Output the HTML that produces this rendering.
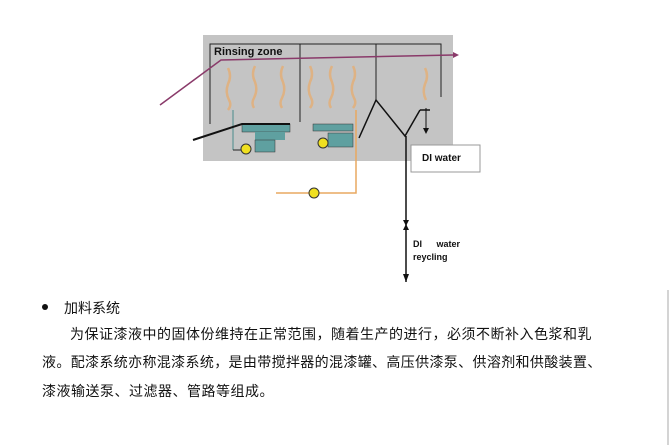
<!DOCTYPE html>
<html><head><meta charset="utf-8"><style>
body{margin:0;width:671px;height:445px;background:#fff;position:relative;overflow:hidden;font-family:"Liberation Sans","Noto Sans CJK SC",sans-serif}
.t{position:absolute;font-size:14px;color:#111;white-space:nowrap;font-family:"Liberation Sans","Noto Sans CJK SC",sans-serif}
.p{letter-spacing:0.5px}
</style></head><body>
<svg width="671" height="445" style="position:absolute;left:0;top:0">
<line x1="668" y1="290" x2="668" y2="445" stroke="#aaa" stroke-width="1"/>
<rect x="203" y="35" width="250" height="126" fill="#c4c4c4"/>
<g stroke="#222" stroke-width="1" fill="none">
<polyline points="210,124 210,44 441,44 441,97"/>
<line x1="300" y1="44" x2="300" y2="122"/>
<line x1="376" y1="44" x2="376" y2="100"/>
</g>
<g stroke="#e3b07a" stroke-width="2.5" fill="none" opacity="0.85">
<path d="M228,68 q4,8 0,16 q-3,8 1,16 q3,5 -1,10"/>
<path d="M255,66 q-4,8 0,16 q3,8 -1,16 q-3,5 0,10"/>
<path d="M283,66 q-4,8 0,16 q3,8 -1,16 q-3,5 0,10"/>
<path d="M310,66 q4,8 0,16 q-3,8 1,16 q3,5 -1,10"/>
<path d="M332,66 q-4,8 0,16 q3,8 -1,16 q-3,5 0,10"/>
<path d="M353,66 q4,8 0,16 q-3,8 1,16 q3,5 -1,10"/>
<path d="M425,68 q4,8 0,16 q-3,8 1,16"/>
</g>
<line x1="233" y1="110" x2="233" y2="150" stroke="#4a8c8c"/>
<rect x="242" y="124" width="48" height="8" fill="#5fa0a0" stroke="#333" stroke-width="0.5"/>
<rect x="255" y="132" width="30" height="8" fill="#5fa0a0"/>
<rect x="255" y="140" width="20" height="12" fill="#5fa0a0" stroke="#333" stroke-width="0.5"/>
<rect x="313" y="124" width="40" height="7" fill="#5fa0a0" stroke="#333" stroke-width="0.5"/>
<rect x="328" y="133" width="25" height="14" fill="#5fa0a0" stroke="#333" stroke-width="0.5"/>
<polyline points="233,150 245,150" stroke="#222" fill="none"/>
<polyline points="193,140 242,124 290,124" stroke="#111" stroke-width="2" fill="none"/>
<polyline points="276,193 356,193 356,110" stroke="#e8a860" stroke-width="1.5" fill="none"/>
<g fill="#f0e020" stroke="#333"><circle cx="246" cy="149" r="5"/><circle cx="323" cy="143" r="5"/><circle cx="314" cy="193" r="5"/></g>
<polyline points="160,105 221,60 453,55" stroke="#8a3a6a" stroke-width="1.5" fill="none"/>
<polygon points="453,52 459,55 453,58" fill="#8a3a6a"/>
<polyline points="359,138 376,100 405,136 420,110" stroke="#111" stroke-width="1.5" fill="none"/>
<line x1="420" y1="110" x2="430" y2="110" stroke="#111" stroke-width="1.5"/>
<line x1="426" y1="108" x2="426" y2="132" stroke="#111"/>
<polygon points="423,128 426,134 429,128" fill="#111"/>
<line x1="406" y1="136" x2="406" y2="282" stroke="#111" stroke-width="1.5"/>
<polygon points="403,220 406,226 409,220" fill="#111"/>
<polygon points="403,230 406,224 409,230" fill="#111"/>
<polygon points="403,274 406,282 409,274" fill="#111"/>
<rect x="411" y="145" width="69" height="27" fill="#fff" stroke="#999"/>
</svg>
<div class="t" style="left:214px;top:46px;font-size:11px;font-weight:bold">Rinsing zone</div>
<div class="t" style="left:422px;top:153px;font-size:10px;font-weight:bold">DI water</div>
<div class="t" style="left:413px;top:239px;font-size:9px;font-weight:bold;word-spacing:12px">DI water</div>
<div class="t" style="left:413px;top:252px;font-size:9px;font-weight:bold">reycling</div>
<div style="position:absolute;left:42px;top:304px;width:6px;height:6px;border-radius:50%;background:#111"></div>
<div class="t" style="left:64px;top:298px">加料系统</div>
<div class="t p" style="left:70px;top:324px">为保证漆液中的固体份维持在正常范围，随着生产的进行，必须不断补入色浆和乳</div>
<div class="t p" style="left:42px;top:352px;letter-spacing:0.35px">液。配漆系统亦称混漆系统，是由带搅拌器的混漆罐、高压供漆泵、供溶剂和供酸装置、</div>
<div class="t p" style="left:42px;top:381px">漆液输送泵、过滤器、管路等组成。</div>
</body></html>
